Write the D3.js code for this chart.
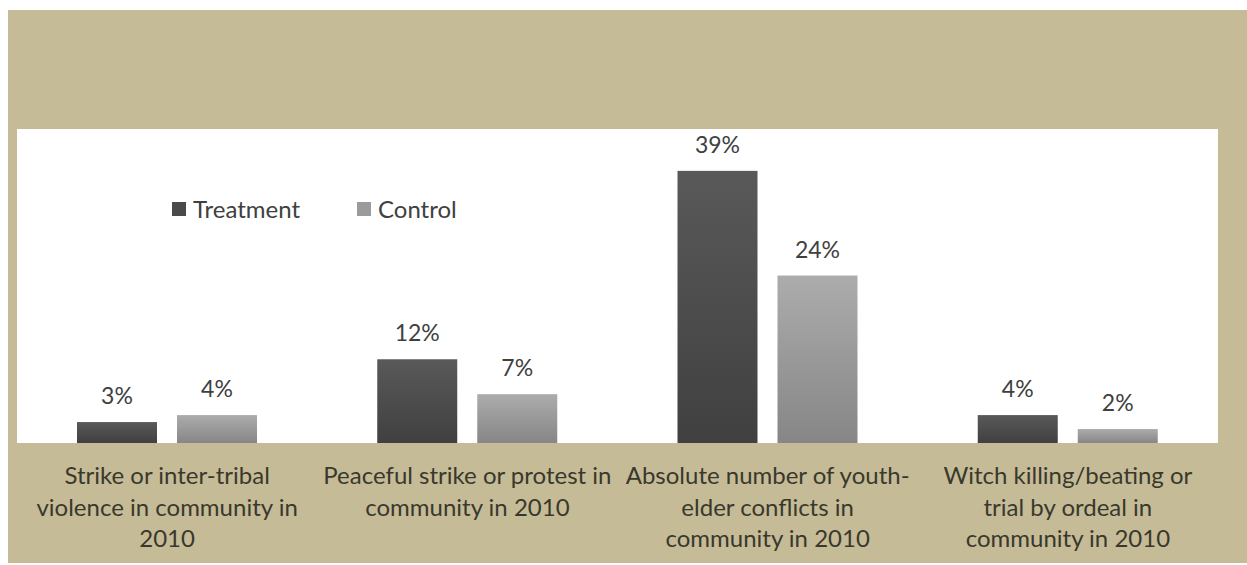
<!DOCTYPE html>
<html>
<head>
<meta charset="utf-8">
<script src="https://cdn.jsdelivr.net/npm/d3@7"></script>
<style>
  body { margin: 0; background: #ffffff; }
  text { font-family: Lato, "Open Sans", sans-serif; }
</style>
</head>
<body>
<div id="d3_chart"></div>
<script>
// data
const categories = [
    "Strike or inter-tribal violence in community in 2010",
    "Peaceful strike or protest in community in 2010",
    "Absolute number of youth-elder conflicts in community in 2010",
    "Witch killing/beating or trial by ordeal in community in 2010"
];
const tickLabels = [
    ["Strike or inter-tribal", "violence in community in", "2010"],
    ["Peaceful strike or protest in", "community in 2010"],
    ["Absolute number of youth-", "elder conflicts in", "community in 2010"],
    ["Witch killing/beating or", "trial by ordeal in", "community in 2010"]
];
const seriesNames = ["Treatment", "Control"];
const treatment = [3, 12, 39, 4];
const control = [4, 7, 24, 2];

const W = 1247, H = 565;
const plot = { left: 17, right: 1218, top: 129, bottom: 443 };

const svg = d3.select("#d3_chart")
    .append("svg")
    .attr("width", W)
    .attr("height", H);

// gradients for the bars
const defs = svg.append("defs");
const grads = [
    { id: "gTreat", top: "#595959", bottom: "#404040" },
    { id: "gCtrl", top: "#acacac", bottom: "#868686" }
];
grads.forEach(function (g) {
    const lg = defs.append("linearGradient")
        .attr("id", g.id)
        .attr("x1", 0).attr("y1", 0).attr("x2", 0).attr("y2", 1);
    lg.append("stop").attr("offset", "0%").attr("stop-color", g.top);
    lg.append("stop").attr("offset", "100%").attr("stop-color", g.bottom);
});

// khaki frame and white plot area
svg.append("rect")
    .attr("x", 8).attr("y", 10)
    .attr("width", W - 8).attr("height", 553)
    .attr("fill", "#c5bc97");
svg.append("rect")
    .attr("x", plot.left).attr("y", plot.top)
    .attr("width", plot.right - plot.left)
    .attr("height", plot.bottom - plot.top)
    .attr("fill", "#ffffff");

const x = d3.scaleBand()
    .domain(categories)
    .range([plot.left, plot.right]);

const x1 = d3.scaleBand()
    .domain(seriesNames)
    .range([50, 250])
    .paddingInner(0.2)
    .paddingOuter(0.1);

const y = d3.scaleLinear()
    .domain([0, 45])
    .range([plot.bottom, plot.top]);

const rows = categories.map(function (c, i) {
    return [
        { cat: c, series: "Treatment", value: treatment[i] },
        { cat: c, series: "Control", value: control[i] }
    ];
}).flat();

const fills = { Treatment: "url(#gTreat)", Control: "url(#gCtrl)" };

svg.selectAll("rect.bar")
    .data(rows)
    .enter()
    .append("rect")
    .attr("class", "bar")
    .attr("x", function (d) { return x(d.cat) + x1(d.series); })
    .attr("y", function (d) { return y(d.value); })
    .attr("width", x1.bandwidth())
    .attr("height", function (d) { return y(0) - y(d.value); })
    .attr("fill", function (d) { return fills[d.series]; });

// value labels
svg.selectAll("text.val")
    .data(rows)
    .enter()
    .append("text")
    .attr("class", "val")
    .attr("x", function (d) { return x(d.cat) + x1(d.series) + x1.bandwidth() / 2; })
    .attr("y", function (d) { return y(d.value) - 18; })
    .attr("text-anchor", "middle")
    .style("font-size", "23px")
    .style("fill", "#404040")
    .text(function (d) { return d.value + "%"; });

// x axis with wrapped labels
const xAxis = svg.append("g")
    .attr("transform", "translate(0," + plot.bottom + ")")
    .call(d3.axisBottom(x).tickSize(0).tickFormat(""));
xAxis.select(".domain").remove();
xAxis.selectAll(".tick text").remove();
xAxis.selectAll(".tick")
    .append("text")
    .attr("text-anchor", "middle")
    .style("font-size", "24px")
    .style("fill", "#3a382c")
    .selectAll("tspan")
    .data(function (d) { return tickLabels[categories.indexOf(d)]; })
    .enter()
    .append("tspan")
    .attr("x", 0)
    .attr("y", function (d, i) { return 41 + i * 31.5; })
    .text(function (d) { return d; });

// legend
const legendX = [172, 357];
const legendColors = ["#4a4a4a", "#9b9b9b"];
const legend = svg.selectAll("g.legend")
    .data(seriesNames)
    .enter()
    .append("g")
    .attr("class", "legend")
    .attr("transform", function (d, i) { return "translate(" + legendX[i] + ",209)"; });
legend.append("rect")
    .attr("x", 0).attr("y", -7)
    .attr("width", 14).attr("height", 14)
    .attr("fill", function (d, i) { return legendColors[i]; });
legend.append("text")
    .attr("x", 21).attr("y", 9)
    .style("font-size", "24px")
    .style("fill", "#404040")
    .text(function (d) { return d; });
</script>
</body>
</html>
